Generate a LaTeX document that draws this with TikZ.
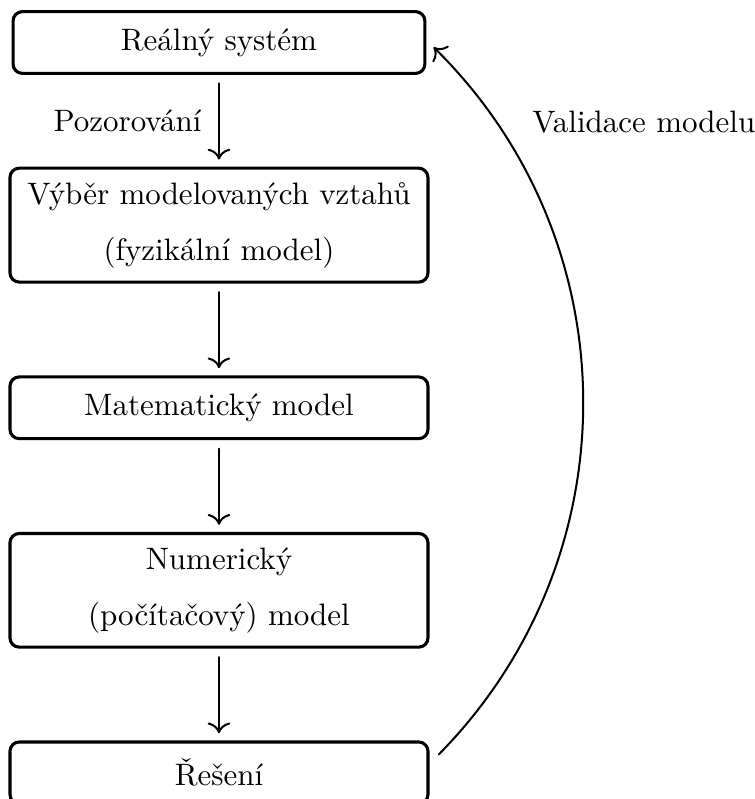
\documentclass[tikz,border=0pt]{standalone}
\usepackage{fontspec}
\usetikzlibrary{positioning,arrows.meta}
\begin{document}
\begin{tikzpicture}[>={To[scale=1.15]}, line join=round, line cap=round, node distance=1.04cm]
	\tikzset{box/.style={draw, line width=1pt, rounded corners=3pt, minimum width=4.74cm, minimum height=0.7cm, inner ysep=4.6pt, align=center}}
	\tikzset{arr/.style={->, line width=0.65pt, shorten <=2.7pt, shorten >=2.3pt}}
	\useasboundingbox (0,0) rectangle (8.561,-9.060);
	\node[box, minimum width=4.67cm] (real) at (2.483,-0.482) {Reálný systém};
	\node[box, below=of real] (vyber) {Výběr modelovaných vztahů\\[6pt](fyzikální model)};
	\node[box, below=of vyber] (mat) {Matematický model};
	\node[box, below=of mat] (num) {Numerický\\[6pt](počítačový) model};
	\node[box, below=of num] (res) {Řešení};
	\draw[arr] (real) -- node[midway, left=2pt] (pozor) {Pozorování} (vyber);
	\draw[arr] (vyber) -- (mat);
	\draw[arr] (mat) -- (num);
	\draw[arr] (num) -- (res);
	\draw[->, line width=0.65pt] ([shift={(3pt,-4.5pt)}]res.north east) to[bend right=45] node[pos=0.88, right=8pt] (valid) {Validace modelu} ([shift={(2.3pt,-1.5pt)}]real.east);
\end{tikzpicture}
\end{document}
